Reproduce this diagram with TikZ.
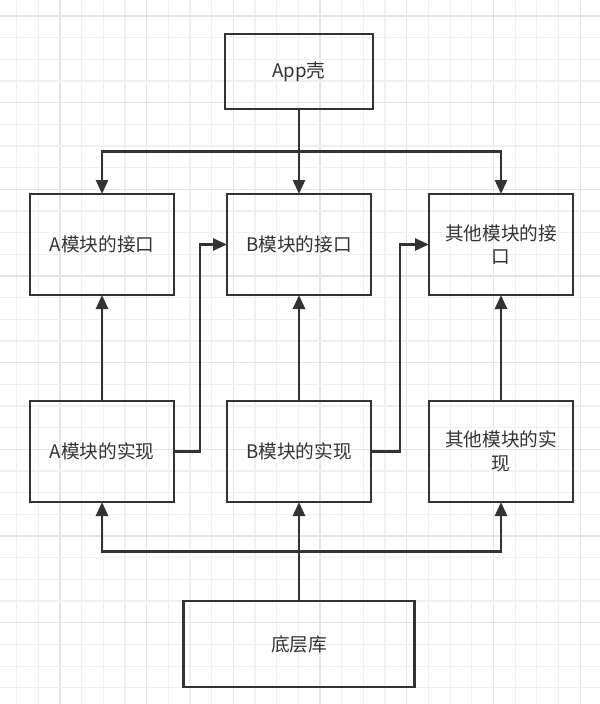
\documentclass[tikz,border=0pt]{standalone}
\usepackage{fontspec}
\setmainfont{Noto Sans CJK SC}
\usepackage{tikz}
\usetikzlibrary{arrows.meta,positioning,calc}
\definecolor{ink}{HTML}{333333}
\definecolor{gridminor}{HTML}{F0F0F0}
\definecolor{gridmajor}{HTML}{E4E4E4}

\begin{document}
\begin{tikzpicture}[
  x=0.75pt, y=-0.75pt,
  box/.style={draw=ink, line width=1.9pt, outer sep=0pt, align=center, text=ink,
    font=\fontsize{14}{17.5}\selectfont, minimum width=108pt, minimum height=75.75pt},
  arr/.style={-{Triangle[length=10.5pt,width=9pt]}, draw=ink, line width=1.9pt},
  line/.style={draw=ink, line width=1.9pt}
]
\useasboundingbox[fill=white] (0,0) rectangle (600,704);
% background grid
\foreach \k in {0,...,26}{
  \pgfmathsetmacro\gx{16.7+21.67*\k}
  \pgfmathtruncatemacro\km{mod(\k,4)}
  \ifnum\km=2 \draw[gridmajor, line width=0.9pt] (\gx,0) -- (\gx,704);
  \else \draw[gridminor, line width=0.9pt] (\gx,0) -- (\gx,704); \fi
}
\foreach \k in {0,...,31}{
  \pgfmathsetmacro\gy{16+21.67*\k}
  \pgfmathtruncatemacro\km{mod(\k,4)}
  \ifnum\km=0 \draw[gridmajor, line width=0.9pt] (0,\gy) -- (600,\gy);
  \else \draw[gridminor, line width=0.9pt] (0,\gy) -- (600,\gy); \fi
}

\node[box] (bif) at (299,244.5) {B模块的接口};
\node[box, left=39.75pt of bif] (aif) {A模块的接口};
\node[box, right=43.5pt of bif] (oif) {其他模块的接\\口};
\node[box, above=63.75pt of bif, minimum width=111pt, minimum height=56.25pt] (app) {App壳};
\node[box, below=79.5pt of bif] (bimp) {B模块的实现};
\node[box, below=79.5pt of aif] (aimp) {A模块的实现};
\node[box, below=79.5pt of oif] (oimp) {其他模块的实\\现};
\node[box, below=74.25pt of bimp, minimum width=173.25pt, minimum height=64.5pt] (base) {底层库};

\coordinate (top) at ($(app.south)!0.5!(bif.north)$);
\coordinate (low) at ($(bimp.south)!0.5!(base.north)$);

\draw[arr] (app) -- (bif);
\draw[arr] (top) -| (aif.north);
\draw[arr] (top) -| (oif.north);

\draw[arr] (base) -- (bimp);
\draw[arr] (low) -| (aimp.south);
\draw[arr] (low) -| (oimp.south);

\draw[arr] (aimp) -- (aif);
\draw[arr] (bimp) -- (bif);
\draw[arr] (oimp) -- (oif);

\draw[arr] (aimp.east) -- ++(26,0) |- (bif.west);
\draw[arr] (bimp.east) -- ++(29,0) |- (oif.west);
\end{tikzpicture}
\end{document}
